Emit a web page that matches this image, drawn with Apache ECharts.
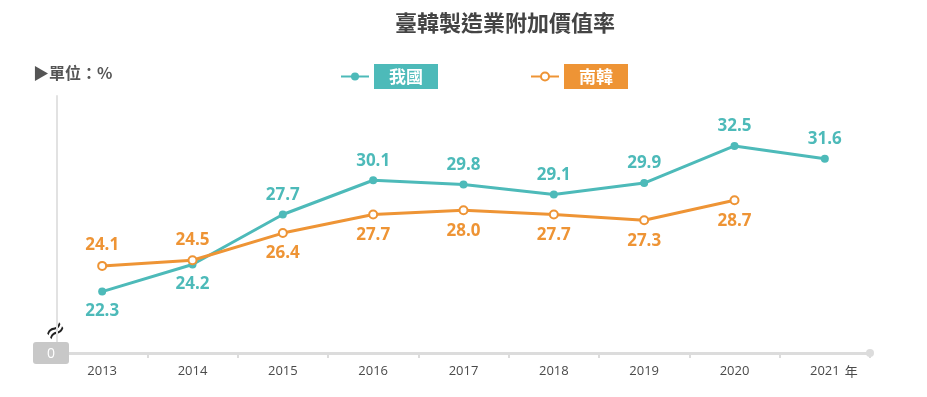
<!DOCTYPE html>
<html>
<head>
<meta charset="utf-8">
<script src="https://cdn.jsdelivr.net/npm/echarts@6/dist/echarts.min.js"></script>
<style>
  html, body { margin: 0; padding: 0; background: #fff; }
  #chart { width: 927px; height: 397px; }
</style>
</head>
<body>
<div id="chart"></div>
<script>
// 年份與數值
const years = ['2013', '2014', '2015', '2016', '2017', '2018', '2019', '2020', '2021'];
const taiwan = [22.3, 24.2, 27.7, 30.1, 29.8, 29.1, 29.9, 32.5, 31.6];
const korea = [24.1, 24.5, 26.4, 27.7, 28.0, 27.7, 27.3, 28.7, null];
const seriesNames = ['我國', '南韓'];

const TEAL = '#4dbab9';
const ORANGE = '#ee9435';
const CJK = '"Noto Sans CJK TC", "Noto Sans", sans-serif';
const NUM = '"Open Sans", "Noto Sans", sans-serif';

// 標籤放在上或下：比另一條線低就放下面
function buildData(own, other) {
    return own.map((v, i) => {
        if (v == null) return '-';
        const below = other[i] != null && v < other[i];
        return { value: v, label: { position: below ? 'bottom' : 'top' } };
    });
}

let myChart = echarts.init(document.getElementById('chart'));

let labelStyle = function (color) {
    return {
        show: true,
        distance: 7,
        fontFamily: NUM,
        fontSize: 17,
        fontWeight: 'bold',
        color: color,
        formatter: function (p) {
            return Number(p.value).toFixed(1);
        }
    };
};

let options = {
    backgroundColor: '#fff',
    animation: false,
    title: {
        text: '臺韓製造業附加價值率',
        left: 500,
        textAlign: 'center',
        top: 7,
        textStyle: {
            fontFamily: CJK,
            fontSize: 22,
            fontWeight: 'bold',
            color: '#444'
        }
    },
    legend: {
        left: 340,
        top: 64,
        padding: 0,
        itemWidth: 28,
        itemHeight: 10,
        itemGap: 92,
        data: [
            { name: seriesNames[0], textStyle: { backgroundColor: TEAL } },
            { name: seriesNames[1], textStyle: { backgroundColor: ORANGE } }
        ],
        textStyle: {
            fontFamily: CJK,
            fontSize: 17,
            fontWeight: 'bold',
            color: '#fff',
            padding: [3, 15, 3, 15],
            lineHeight: 19
        }
    },
    grid: {
        left: 57,
        right: 57,
        top: 96,
        bottom: 44
    },
    xAxis: {
        type: 'category',
        data: years,
        boundaryGap: true,
        axisLine: {
            lineStyle: { color: '#dcdcdc', width: 3 },
            symbol: ['none', 'circle'],
            symbolSize: [8, 8]
        },
        axisTick: {
            show: true,
            interval: 0,
            length: 5,
            lineStyle: { color: '#dcdcdc', width: 2 }
        },
        axisLabel: {
            interval: 0,
            margin: 12,
            fontFamily: NUM,
            fontSize: 13,
            color: '#4a4a4a',
            formatter: function (val, idx) {
                if (idx === years.length - 1) return '{p|}' + val + '{y|年}';
                return val;
            },
            rich: {
                p: { width: 18 },
                y: { width: 18, align: 'right', fontFamily: CJK, fontSize: 13, color: '#4a4a4a' }
            }
        }
    },
    yAxis: {
        type: 'value',
        min: 18,
        max: 36,
        interval: 18,
        splitLine: { show: false },
        axisTick: { show: false },
        axisLine: {
            show: true,
            lineStyle: { color: '#e2e2e2', width: 2 }
        },
        axisLabel: {
            margin: -12,
            formatter: function (v) {
                return v === 18 ? '{z|0}' : '';
            },
            rich: {
                z: {
                    backgroundColor: '#c8c8c8',
                    borderRadius: 3,
                    width: 36,
                    height: 19,
                    lineHeight: 19,
                    padding: [3, 0, 0, 0],
                    align: 'center',
                    color: '#fff',
                    fontFamily: NUM,
                    fontSize: 14
                }
            }
        }
    },
    graphic: [
        {
            type: 'text',
            left: 33,
            top: 65,
            style: {
                text: '▶單位：%',
                fontFamily: CJK,
                fontSize: 16,
                fontWeight: 'bold',
                fill: '#555'
            }
        },
        {
            type: 'rect',
            shape: { x: 49, y: 325, width: 16, height: 13 },
            style: { fill: '#fff' }
        },
        {
            type: 'text',
            x: 56,
            y: 332,
            rotation: Math.PI / 5,
            style: {
                text: '≈',
                fontFamily: 'DejaVu Sans',
                fontSize: 26,
                fill: '#222',
                align: 'center',
                verticalAlign: 'middle'
            }
        }
    ],
    series: [
        {
            name: seriesNames[0],
            type: 'line',
            data: buildData(taiwan, korea),
            symbol: 'circle',
            symbolSize: 8,
            itemStyle: { color: TEAL },
            lineStyle: { color: TEAL, width: 3 },
            label: labelStyle(TEAL)
        },
        {
            name: seriesNames[1],
            type: 'line',
            data: buildData(korea, taiwan),
            symbol: 'emptyCircle',
            symbolSize: 8,
            itemStyle: { color: ORANGE, borderWidth: 2 },
            lineStyle: { color: ORANGE, width: 3 },
            label: labelStyle(ORANGE)
        }
    ]
};

myChart.setOption(options);
window.addEventListener('resize', () => { myChart.resize(); });
</script>
</body>
</html>
